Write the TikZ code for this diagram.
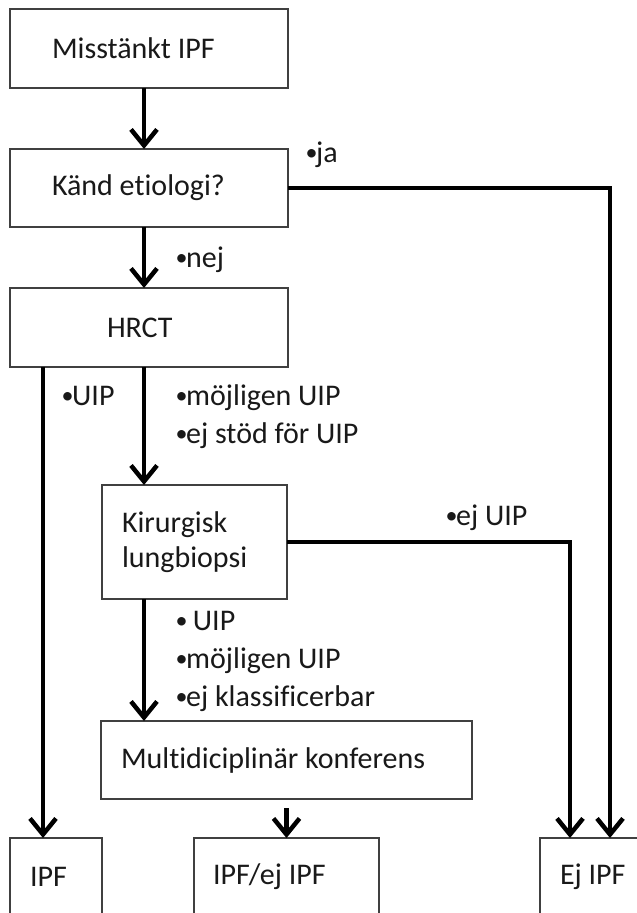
\documentclass[tikz,border=0pt]{standalone}
\usepackage{fontspec}
\setmainfont{Carlito}[Ligatures=NoCommon]
\usetikzlibrary{arrows.meta}
\newcommand\bul{\makebox[9pt][l]{\hspace{-1.5pt}\raisebox{1.5pt}{\fontsize{24}{24}\selectfont•}}}
\begin{document}
\begin{tikzpicture}[x=1pt,y=-1pt,
  box/.style={draw=black!75, line width=1.6pt, inner ysep=0pt, outer sep=0pt, align=flush left,
    text=black!90, font=\fontsize{30}{35}\selectfont, anchor=north west},
  lbl/.style={inner sep=0pt, anchor=base west, text=black!90, font=\fontsize{30}{38}\selectfont},
  arr/.style={line width=4.5pt, line join=miter, -{Straight Barb[length=16pt,width=26pt]}}]
\useasboundingbox (0,0) rectangle (637,913);
\clip (0,0) rectangle (637,913);
\fill[white] (0,0) rectangle (637,913);
% boxes
\node[box, minimum width=278pt, minimum height=79pt, inner xsep=42pt, text width=194pt] (b1) at (10,9) {Misstänkt IPF};
\node[box, minimum width=278pt, minimum height=78pt, inner xsep=42pt, text width=194pt] (b2) at (10,149) {Känd etiologi?};
\node[box, minimum width=278pt, minimum height=79pt, inner xsep=97pt, text width=84pt] (hrct) at (10,288) {HRCT};
\node[box, minimum width=185pt, minimum height=114pt, inner xsep=20pt, text width=145pt] (kir) at (102,485) {Kirurgisk\\lungbiopsi};
\node[box, minimum width=371pt, minimum height=78pt, inner xsep=20pt, text width=331pt] (multi) at (101,721) {Multidiciplinär konferens};
\node[box, minimum width=92pt, minimum height=78pt, inner xsep=20pt, text width=52pt] (ipf) at (10,838) {IPF};
\node[box, minimum width=185pt, minimum height=78pt, inner xsep=19pt, text width=147pt] (ipfej) at (194,838) {IPF/ej IPF};
\node[box, minimum width=110pt, minimum height=78pt, inner xsep=20pt, text width=70pt] (ejipf) at (540,838) {Ej IPF};
% helper columns
\coordinate (cx) at (144,0);
\coordinate (ux) at (43,0);
\coordinate (jx) at (610,0);
\coordinate (ex) at (570,0);
\coordinate (mb) at ([yshift=-9pt]multi.south);
% connectors
\draw[arr] (b1.south -| cx) -- (b2.north -| cx);
\draw[arr] (b2.south -| cx) -- (hrct.north -| cx);
\draw[arr] (b2.east) -| (ejipf.north -| jx);
\draw[arr] (hrct.south -| ux) -- (ipf.north -| ux);
\draw[arr] (hrct.south -| cx) -- (kir.north -| cx);
\draw[arr] (kir.east) -| (ejipf.north -| ex);
\draw[arr] (kir.south -| cx) -- (multi.north -| cx);
\draw[arr] (mb -| ipfej.north) -- (ipfej.north);
% labels
\node[lbl] (lja) at (307,162) {\bul ja};
\node[lbl] (lnej) at (177,267) {\bul nej};
\node[lbl] (luip) at (63,405) {\bul UIP};
\node[lbl] (lmoj) at (177,405) {\begin{tabular}[t]{@{}l@{}}\bul möjligen UIP\\\bul ej stöd för UIP\end{tabular}};
\node[lbl] (lejuip) at (447,525) {\bul ej UIP};
\node[lbl] (lkir) at (177,630) {\begin{tabular}[t]{@{}l@{}}\bul\ UIP\\\bul möjligen UIP\\\bul ej klassificerbar\end{tabular}};
\end{tikzpicture}
\end{document}
